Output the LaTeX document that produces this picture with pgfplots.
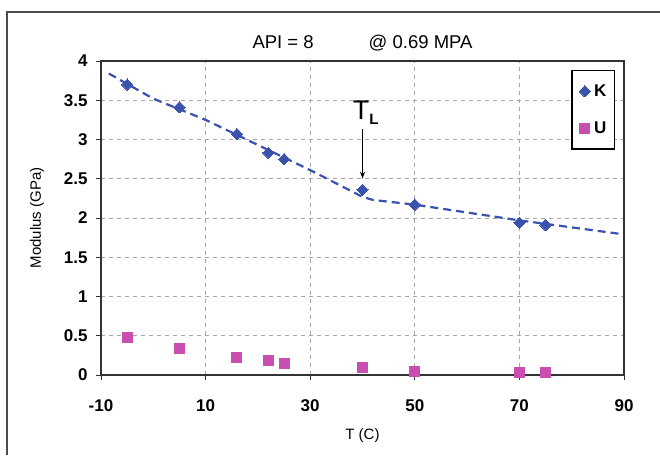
\documentclass[border=0pt]{standalone}
\usepackage{pgfplots}
\pgfplotsset{compat=1.18}
\usepackage{fontspec}
\setmainfont{Liberation Sans}
\usetikzlibrary{arrows.meta}

\definecolor{kblue}{RGB}{58,82,172}
\definecolor{umag}{RGB}{200,78,176}
\definecolor{gridgray}{RGB}{165,165,165}

\begin{document}
\begin{tikzpicture}
\useasboundingbox (0pt,0pt) rectangle (660pt,455pt);
% outer frame
\draw[gray!60!black, line width=1.2pt] (7pt,0pt) -- (7pt,443pt) -- (660pt,443pt);

\begin{axis}[
  at={(101pt,80pt)}, anchor=south west,
  scale only axis, width=523pt, height=314pt,
  xmin=-10, xmax=90, ymin=0, ymax=4,
  xtick={-10,10,30,50,70,90},
  ytick={0,0.5,...,4},
  tick pos=left, tick align=outside,
  major tick length=5pt,
  every tick/.style={line width=1pt, black!80},
  axis line style={line width=1.4pt, black!80},
  grid=major,
  major grid style={gridgray, line width=1pt, dash pattern=on 4pt off 4pt},
  /pgf/number format/assume math mode=true,
  ticklabel style={font=\fontsize{17}{17}\selectfont\bfseries},
  yticklabel style={xshift=-5pt},
  xticklabel style={yshift=-16pt},
  title={API = 8\hspace{55pt}@ 0.69 MPA},
  title style={font=\fontsize{18.5}{18.5}\selectfont, at={(axis description cs:0.5,1)}, anchor=center, yshift=12pt},
  xlabel={T (C)},
  xlabel style={font=\fontsize{15}{15}\selectfont, at={(axis description cs:0.5,-0.194)}, anchor=center},
  ylabel={Modulus (GPa)},
  ylabel style={font=\fontsize{15}{15}\selectfont, at={(axis description cs:-0.1224,0.5)}, anchor=center, rotate=0},
  legend style={at={(axis description cs:1,1)}, anchor=north east, xshift=-9pt, yshift=-9pt,
    draw=black, line width=1.4pt, fill=white,
    font=\fontsize{17}{17}\selectfont\bfseries,
    row sep=20pt, inner xsep=6pt, inner ysep=12pt,
    legend cell align=left},
  legend image code/.code={\path (0cm,0cm) (0.45cm,0cm); \draw[#1, line width=0pt] plot coordinates {(0.22cm,0cm)};},
]
% trend line
\addplot[kblue, line width=2.2pt, dash pattern=on 8pt off 5pt, forget plot] coordinates {
  (-8.5,3.84) (0,3.52) (10,3.25) (20,2.93) (30,2.61) (40,2.27) (42,2.23) (50,2.17) (70,1.97) (89,1.80)
};
\addplot[only marks, mark=square*, mark size=4pt, mark options={rotate=45, fill=kblue, draw=kblue, line width=0pt}] coordinates {
  (-5,3.70) (5,3.41) (16,3.07) (22,2.83) (25,2.75) (40,2.36) (50,2.17) (70,1.94) (75,1.91)
};
\addlegendentry{K}
\addplot[only marks, mark=square*, mark size=5pt, mark options={fill=umag, draw=umag, line width=0pt}] coordinates {
  (-5,0.48) (5,0.34) (16,0.22) (22,0.19) (25,0.15) (40,0.09) (50,0.05) (70,0.03) (75,0.03)
};
\addlegendentry{U}
% T_L annotation
\node[anchor=base, inner sep=0pt] at (axis cs:40.6,3.25) {{\fontsize{27}{27}\selectfont T}\raisebox{-5pt}{\fontsize{15}{15}\selectfont\bfseries L}};
\draw[-{Stealth[length=7pt,width=5pt]}, line width=1.1pt] (axis cs:40,3.13) -- (axis cs:40,2.5);
\end{axis}
\end{tikzpicture}
\end{document}
